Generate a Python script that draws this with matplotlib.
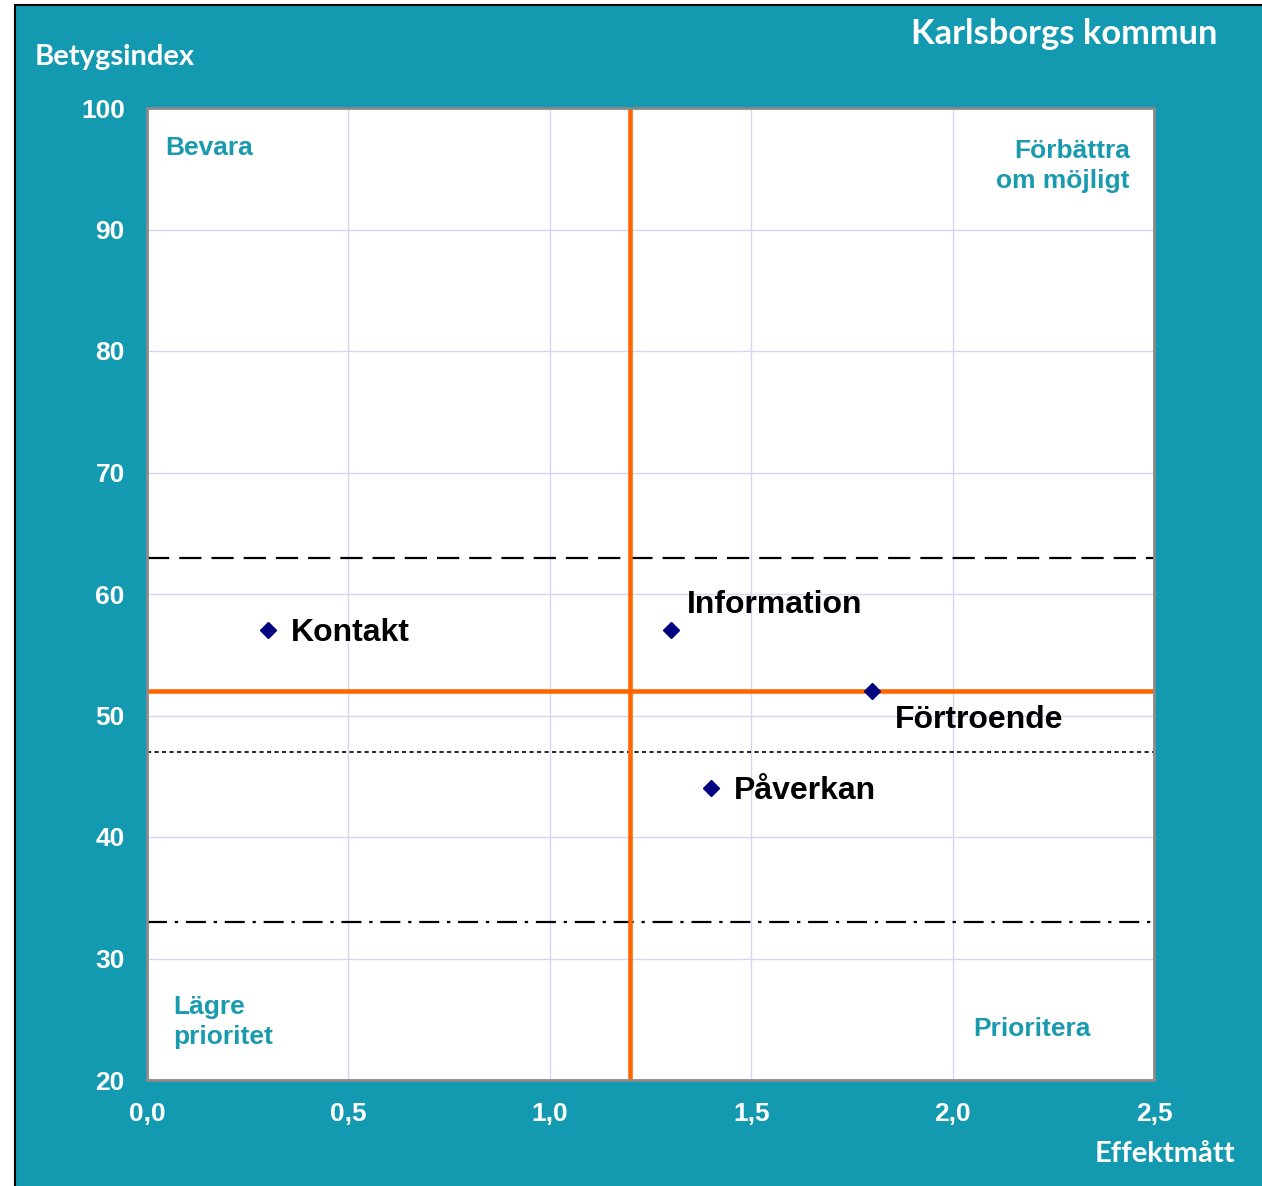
import matplotlib
matplotlib.use("Agg")
import matplotlib.pyplot as plt
from matplotlib.patches import Rectangle

# data
names = ["Kontakt", "Information", "Förtroende", "Påverkan"]
effekt = [0.3, 1.3, 1.8, 1.4]
betyg = [57, 57, 52, 44]
label_offsets = [(16.5, -2), (11.5, 18), (16.5, -20.5), (16.5, -2)]  # points

mean_x = 1.2
mean_y = 52
ref_dashed = 63
ref_dotted = 47
ref_dashdot = 33

x_ticks = [0.0, 0.5, 1.0, 1.5, 2.0, 2.5]
x_ticklabels = ["0,0", "0,5", "1,0", "1,5", "2,0", "2,5"]
y_ticks = [20, 30, 40, 50, 60, 70, 80, 90, 100]

TEAL = "#139AB0"
QUAD = "#1A9AAF"

W, H = 1262, 1186
fig = plt.figure(figsize=(W / 100, H / 100), dpi=100, facecolor="white")

# teal background panel with thin black frame
bg = Rectangle((15 / W, -0.01), 1.0, 1 - 5 / H + 0.01, transform=fig.transFigure,
               facecolor=TEAL, edgecolor="black", linewidth=1.5, zorder=-10)
fig.patches.append(bg)

ax = fig.add_axes([147 / W, 1 - 1080 / H, (1154 - 147) / W, (1080 - 108) / H])
ax.set_facecolor("white")
ax.set_xlim(0, 2.5)
ax.set_ylim(20, 100)
ax.set_xticks(x_ticks)
ax.set_xticklabels(x_ticklabels)
ax.set_yticks(y_ticks)
ax.grid(True, color="#D4D4F4", linewidth=1)
ax.set_axisbelow(True)
for s in ax.spines.values():
    s.set_color("#8a8a8a")
    s.set_linewidth(2)
ax.tick_params(length=0, labelcolor="white", labelsize=19)
ax.tick_params(axis="y", pad=16)
ax.tick_params(axis="x", pad=16)
for lab in ax.get_xticklabels() + ax.get_yticklabels():
    lab.set_family("Liberation Sans")
    lab.set_fontweight("bold")

# reference lines
ax.axhline(ref_dashed, color="black", lw=1.6, dashes=(10, 4.5))
ax.axhline(ref_dotted, color="black", lw=1.2, dashes=(2.5, 2))
ax.axhline(ref_dashdot, color="black", lw=1.6, dashes=(9, 3.5, 1.5, 3.5))
ax.axvline(mean_x, color="#FF6600", lw=3.3)
ax.axhline(mean_y, color="#FF6600", lw=3.3)

ax.plot(effekt, betyg, "D", color="#000080", markersize=8.5, linestyle="none", zorder=5)
for n, xv, yv, off in zip(names, effekt, betyg, label_offsets):
    ax.annotate(n, (xv, yv), xytext=off, textcoords="offset points",
                ha="left", va="center", fontsize=23, fontweight="bold",
                family="Liberation Sans", color="black")

# quadrant labels
qk = dict(fontsize=19, fontweight="bold", family="Liberation Sans", color=QUAD,
          transform=fig.transFigure)
fig.text(165 / W, 1 - 148 / H, "Bevara", ha="left", va="center", **qk)
fig.text(1130 / W, 1 - 166 / H, "Förbättra\nom möjligt", ha="right", va="center",
         multialignment="right", linespacing=1.35, **qk)
fig.text(173 / W, 1 - 1022 / H, "Lägre\nprioritet", ha="left", va="center",
         linespacing=1.35, **qk)
fig.text(973 / W, 1 - 1029 / H, "Prioritera", ha="left", va="center", **qk)

# titles
tk = dict(fontweight="bold", family="Lato", color="white")
fig.text(35 / W, 1 - 57 / H, "Betygsindex", ha="left", va="center", fontsize=21, **tk)
fig.text(1217 / W, 1 - 34 / H, "Karlsborgs kommun", ha="right", va="center",
         fontsize=24.8, **tk)
fig.text(1235 / W, 1 - 1154 / H, "Effektmått", ha="right", va="center", fontsize=21, **tk)

fig.savefig("out.png", dpi=100, facecolor=fig.get_facecolor())
